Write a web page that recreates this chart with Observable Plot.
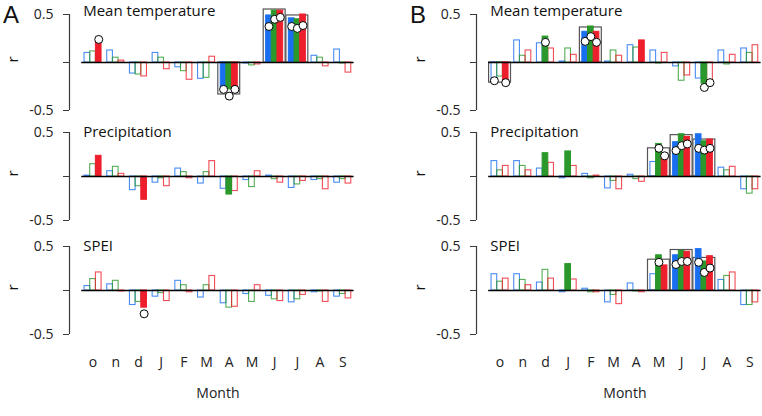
<!DOCTYPE html>
<html><head><meta charset="utf-8">
<script src="https://cdn.jsdelivr.net/npm/d3@7"></script>
<script src="https://cdn.jsdelivr.net/npm/@observablehq/plot@0.6"></script>
<style>
body{margin:0;background:#fff;}
#chart{position:relative;width:762px;height:416px;overflow:hidden;font-family:"Open Sans",sans-serif;color:#111;}
.letter{position:absolute;font-family:"Liberation Sans",Arial,sans-serif;font-size:24px;line-height:27px;}
.plot{position:absolute;}
</style></head><body><div id="chart"></div>
<script>
const months = ["o","n","d","J","F","M","A","M","J","J","A","S"];
const seriesNames = ["s1","s2","s3"];
const seriesColors = ["#1a6ff0","#2a982a","#ee1f2c"];
const rowTitles = ["Mean temperature","Precipitation","SPEI"];
const panelLabels = ["A","B"];
const yTicks = [-0.5, 0, 0.5];
const yTickLabels = ["-0.5","","0.5"];
const xLabel = "Month";

// bar values [month][series]
const A_temp = [[0.10,0.115,0.21],[0.125,0.05,0.02],[-0.115,-0.125,-0.145],[0.10,0.05,-0.07],[-0.05,-0.09,-0.18],[-0.17,-0.16,0.06],[-0.26,-0.28,-0.26],[-0.01,-0.03,-0.02],[0.49,0.54,0.54],[0.46,0.45,0.50],[0.07,0.05,-0.04],[0.135,-0.01,-0.105]];
const A_temp_filled = [[0,2],[6,0],[6,1],[6,2],[8,0],[8,1],[8,2],[9,0],[9,1],[9,2]];
const A_temp_dots = [[0,2,0.24],[6,0,-0.28],[6,1,-0.35],[6,2,-0.28],[8,0,0.375],[8,1,0.45],[8,2,0.47],[9,0,0.375],[9,1,0.355],[9,2,0.385]];
const A_temp_boxes = [[6,-0.333],[8,0.552],[9,0.49]];

const A_prec = [[0.01,0.14,0.235],[0.06,0.11,0.03],[-0.155,-0.11,-0.265],[-0.07,-0.02,-0.11],[0.09,0.05,-0.02],[-0.08,0.05,0.175],[-0.14,-0.205,-0.165],[-0.04,-0.12,0.06],[0.01,-0.03,-0.07],[-0.13,-0.09,-0.05],[-0.04,-0.03,-0.145],[-0.07,-0.03,-0.08]];
const A_prec_filled = [[0,2],[2,2],[6,1]];
const A_prec_dots = [];
const A_prec_boxes = [];

const A_spei = [[0.05,0.13,0.205],[0.07,0.11,-0.01],[-0.165,-0.13,-0.195],[-0.07,-0.03,-0.12],[0.11,0.06,-0.02],[-0.08,0.06,0.165],[-0.145,-0.195,-0.185],[-0.04,-0.13,0.06],[-0.06,-0.10,-0.12],[-0.135,-0.10,-0.05],[-0.02,-0.01,-0.13],[-0.07,-0.04,-0.09]];
const A_spei_filled = [[2,2]];
const A_spei_dots = [[2,2,-0.265]];
const A_spei_boxes = [];

const B_temp = [[-0.19,-0.146,-0.19],[0.23,0.07,0.125],[0.20,0.27,0.146],[0.01,0.146,0.08],[0.32,0.375,0.32],[0.01,0.125,0.07],[0.18,0.156,0.23],[0.125,-0.01,0.10],[-0.04,-0.19,-0.135],[-0.167,-0.22,-0.20],[0.125,-0.02,0.08],[0.146,0.10,0.18]];
const B_temp_filled = [[0,2],[2,1],[4,0],[4,1],[4,2],[6,2],[9,1]];
const B_temp_dots = [[0,0,-0.19],[0,2,-0.21],[2,1,0.21],[4,0,0.22],[4,1,0.27],[4,2,0.21],[9,1,-0.26],[9,2,-0.21]];
const B_temp_boxes = [[0,-0.21],[4,0.365]];

const B_prec = [[0.175,0.07,0.12],[0.175,0.12,0.07],[0.09,0.265,0.155],[-0.02,0.285,0.12],[0.03,-0.02,0.01],[-0.135,-0.05,-0.145],[0.02,-0.03,-0.06],[0.165,0.37,0.255],[0.39,0.48,0.45],[0.48,0.40,0.42],[0.10,0.07,0.11],[-0.145,-0.195,-0.145]];
const B_prec_filled = [[2,1],[3,1],[7,1],[7,2],[8,0],[8,1],[8,2],[9,0],[9,1],[9,2]];
const B_prec_dots = [[7,1,0.32],[7,2,0.235],[8,0,0.295],[8,1,0.35],[8,2,0.37],[9,0,0.32],[9,1,0.30],[9,2,0.32]];
const B_prec_boxes = [[7,0.32],[8,0.47],[9,0.42]];

const B_spei = [[0.185,0.10,0.135],[0.185,0.12,0.06],[0.09,0.235,0.135],[-0.02,0.30,0.125],[0.02,-0.02,-0.02],[-0.135,-0.05,-0.155],[0.08,-0.01,-0.02],[0.185,0.40,0.285],[0.40,0.45,0.44],[0.47,0.33,0.39],[0.12,0.165,0.205],[-0.165,-0.165,-0.135]];
const B_spei_filled = [[3,1],[7,1],[7,2],[8,0],[8,1],[8,2],[9,0],[9,1],[9,2]];
const B_spei_dots = [[7,1,0.32],[8,0,0.295],[8,1,0.33],[8,2,0.33],[9,0,0.32],[9,1,0.205],[9,2,0.255]];
const B_spei_boxes = [[7,0.35],[8,0.46],[9,0.37]];

const panels = [
  [[A_temp,A_temp_filled,A_temp_dots,A_temp_boxes],[A_prec,A_prec_filled,A_prec_dots,A_prec_boxes],[A_spei,A_spei_filled,A_spei_dots,A_spei_boxes]],
  [[B_temp,B_temp_filled,B_temp_dots,B_temp_boxes],[B_prec,B_prec_filled,B_prec_dots,B_prec_boxes],[B_spei,B_spei_filled,B_spei_dots,B_spei_boxes]]
];

// layout (styling only)
const panelOffset = [0, 407];
const panelWidth = [407, 355];
const xL = 81.2, xR = 353.6;
const rowZero = [62.3, 176.3, 290.3];
const rowK = [96, 88, 88];
const titleDy = [-3, 0, -0.5];
const mTop = 16;
const font = "Open Sans, sans-serif";
const axisColor = "#3a3a3a";

const chart = document.getElementById("chart");

panels.forEach((rows, p) => {
  const L = document.createElement("div");
  L.className = "letter";
  L.textContent = panelLabels[p];
  L.style.left = (panelOffset[p] + 3) + "px";
  L.style.top = "0.5px";
  chart.appendChild(L);

  rows.forEach(([vals, filled, dots, boxes], r) => {
    const bars = [];
    vals.forEach((row, m) => row.forEach((v, s) => {
      bars.push({m, s, series: seriesNames[s], v, filled: filled.some(([fm, fs]) => fm === m && fs === s)});
    }));
    const dotData = dots.map(([m, s, v]) => ({m, s, v}));
    const boxData = boxes.map(([m, v]) => ({m, v}));
    const k = rowK[r];
    const half = k / 2;
    const isBottom = r === 2;
    const mBottom = isBottom ? (416 - (rowZero[r] + half)) : 6;
    const top = rowZero[r] - half - mTop;
    const height = mTop + k + mBottom;
    const W = panelWidth[p];
    const bottomGap = 333.3 - (rowZero[r] + half);

    const marks = [
      Plot.rect(boxData, {x1: d => d.m * 4, x2: d => d.m * 4 + 4, y1: d => 0, y2: d => d.v,
        fill: "none", stroke: "#555", strokeWidth: 1.2, insetLeft: 0.4, insetRight: 0.4}),
      Plot.rect(bars.filter(d => !d.filled), {x1: d => d.m * 4 + 0.5 + d.s, x2: d => d.m * 4 + 1.5 + d.s,
        y1: d => 0, y2: d => d.v, fill: "none", stroke: "series", strokeWidth: 1.1, strokeOpacity: 0.8}),
      Plot.rect(bars.filter(d => d.filled), {x1: d => d.m * 4 + 0.5 + d.s, x2: d => d.m * 4 + 1.5 + d.s,
        y1: d => 0, y2: d => d.v, fill: "series", stroke: "series", strokeWidth: 1}),
      Plot.ruleY([0], {stroke: "#000", strokeWidth: 1.3}),
      Plot.dot(dotData, {x: d => d.m * 4 + 1 + d.s, y: d => d.v, r: 4, fill: "white", stroke: "#000", strokeWidth: 1}),
      Plot.ruleX(["axis"], {x: () => 0, y1: () => yTicks[0], y2: () => yTicks[2], dx: -12.2, stroke: axisColor, strokeWidth: 1.2}),
      Plot.axisY({ticks: yTicks, tickFormat: d => yTickLabels[yTicks.indexOf(d)], tickSize: 6, tickPadding: 10,
        dx: -12.2, label: null, fontSize: 14, stroke: axisColor, fill: "#222"}),
      Plot.text([rowTitles[r]], {frameAnchor: "top-left", text: d => d, textAnchor: "start", lineAnchor: "middle",
        dx: 1.5, dy: titleDy[r], fontSize: 15, fill: "#111"}),
      Plot.text(["r"], {frameAnchor: "left", text: d => d, rotate: -90, dx: -69, fontSize: 15, fill: "#111"})
    ];
    if (isBottom) {
      marks.push(Plot.axisX({ticks: months.map((_, i) => i * 4 + 2), tickFormat: d => months[Math.round((d - 2) / 4)],
        tickSize: 0, tickPadding: 24 + bottomGap, fontSize: 14, label: null, fill: "#222"}));
      marks.push(Plot.text([xLabel], {frameAnchor: "bottom", text: d => d, dy: 60 + bottomGap, lineAnchor: "middle", fontSize: 14, fill: "#222"}));
    }
    const plot = Plot.plot({
      width: W, height,
      marginLeft: xL, marginRight: W - xR, marginTop: mTop, marginBottom: mBottom,
      x: {domain: [0, 48], ...(isBottom ? {} : {axis: null})},
      y: {domain: [yTicks[0], yTicks[2]]},
      color: {domain: seriesNames, range: seriesColors},
      style: {background: "transparent", overflow: "visible", fontFamily: font},
      marks
    });
    plot.classList.add("plot");
    plot.style.left = panelOffset[p] + "px";
    plot.style.top = top + "px";
    chart.appendChild(plot);
  });
});
</script></body></html>
